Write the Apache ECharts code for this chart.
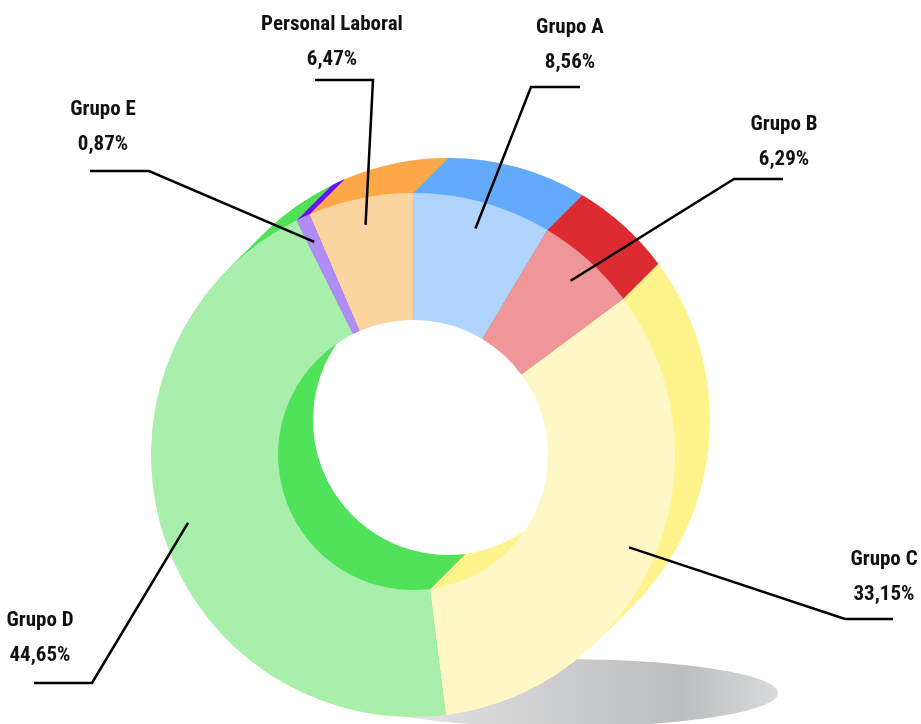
<!DOCTYPE html>
<html>
<head>
<meta charset="utf-8">
<script src="https://cdn.jsdelivr.net/npm/echarts@6/dist/echarts.min.js"></script>
<style>
  html, body { margin: 0; padding: 0; background: #fff; }
  #chart { width: 921px; height: 724px; }
</style>
</head>
<body>
<div id="chart"></div>
<script>
const categories = ['Grupo A', 'Grupo B', 'Grupo C', 'Grupo D', 'Grupo E', 'Personal Laboral'];
const shares = [8.56, 6.29, 33.15, 44.65, 0.87, 6.47];
const topColors = ['#b0d4fc', '#ee9698', '#fff8c6', '#a8efac', '#b08cf8', '#fcd4a0'];
const sideColors = ['#64aafc', '#dc2c32', '#fff48c', '#50e25a', '#6a12f6', '#fca848'];

// where each label sits: elbow x, elbow y, line end x, text centre x, text bottom y
const labelSpots = [
  [531, 87, 580, 570, 80],
  [734, 179, 783, 784, 177],
  [845, 619, 893, 884, 612],
  [92, 683, 34, 40, 673],
  [149, 171, 90, 103, 162],
  [373, 80, 315, 332, 77]
];

const depth = 35;
const faceCenter = [413, 455];
const ringRadius = [135, 262];

const chart = echarts.init(document.getElementById('chart'));

const sliceData = (colors) => categories.map((name, i) => ({
  name: name,
  value: shares[i],
  itemStyle: { color: colors[i] }
}));

const series = [];
// extrusion: stacked copies of the ring, back to front
for (let k = 0; k < depth; k++) {
  series.push({
    type: 'pie',
    silent: true,
    z: 1 + k,
    center: [faceCenter[0] + depth - k, faceCenter[1] - depth + k],
    radius: ringRadius,
    startAngle: 90,
    label: { show: false },
    labelLine: { show: false },
    itemStyle: { borderWidth: 0 },
    data: sliceData(sideColors)
  });
}
// top face
series.push({
  type: 'pie',
  silent: true,
  z: depth + 2,
  center: faceCenter,
  radius: ringRadius,
  startAngle: 90,
  label: { show: false },
  labelLine: { show: false },
  itemStyle: { borderWidth: 0 },
  data: sliceData(topColors)
});
// invisible pie that only carries the labels
series.push({
  type: 'pie',
  silent: true,
  z: depth + 5,
  center: faceCenter,
  radius: [0, 235],
  startAngle: 90,
  avoidLabelOverlap: false,
  itemStyle: { color: 'rgba(0,0,0,0)', borderWidth: 0 },
  label: {
    show: true,
    position: 'outside',
    color: '#111',
    fontFamily: "'Roboto Condensed', 'DejaVu Sans Condensed', sans-serif",
    fontWeight: 'bold',
    fontSize: 21,
    lineHeight: 35,
    formatter: (p) => p.name + '\n' + p.value.toFixed(2).replace('.', ',') + '%'
  },
  labelLine: {
    show: true,
    lineStyle: { color: '#000', width: 2.5 }
  },
  labelLayout: (params) => {
    const s = labelSpots[params.dataIndex];
    const p0 = params.labelLinePoints[0];
    return {
      x: s[3],
      y: s[4],
      align: 'center',
      verticalAlign: 'bottom',
      labelLinePoints: [p0, [s[0], s[1]], [s[2], s[1]]]
    };
  },
  data: categories.map((name, i) => ({ name: name, value: shares[i] }))
});

const option = {
  animation: false,
  graphic: [{
    type: 'ellipse',
    silent: true,
    z: 0,
    shape: { cx: 560, cy: 693, rx: 218, ry: 34 },
    style: {
      fill: new echarts.graphic.LinearGradient(0, 0, 1, 0, [
        { offset: 0, color: '#f4f4f4' },
        { offset: 0.25, color: '#dcdcdd' },
        { offset: 0.6, color: '#c6c7c8' },
        { offset: 0.78, color: '#bcbdbf' },
        { offset: 1, color: '#d9dadb' }
      ])
    }
  }],
  series: series
};

chart.setOption(option);

window.addEventListener('resize', () => chart.resize());
</script>
</body>
</html>
